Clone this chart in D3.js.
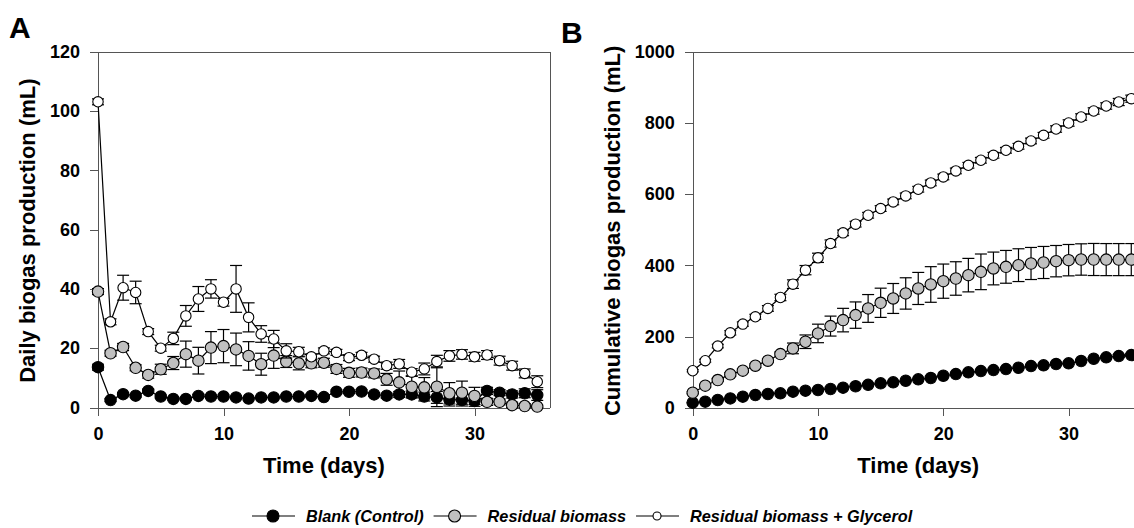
<!DOCTYPE html>
<html>
<head>
<meta charset="utf-8">
<script src="https://cdn.jsdelivr.net/npm/d3@7"></script>
<style>
  html, body { margin: 0; padding: 0; background: #fff; }
  svg { display: block; font-family: "Liberation Sans", Arial, sans-serif; }
  .tick text { font-size: 18px; font-weight: bold; fill: #000; }
  .axis path, .axis line { stroke: #555; stroke-width: 1; shape-rendering: crispEdges; }
</style>
</head>
<body>
<svg id="chart" width="1134" height="528"></svg>
<script>
// Sampling days (0–35)
const days = [0,1,2,3,4,5,6,7,8,9,10,11,12,13,14,15,16,17,18,19,20,21,22,23,24,25,26,27,28,29,30,31,32,33,34,35];

// Daily biogas production (mL), mean and error
const dailyBlank = [13.6,2.5,4.5,4.0,5.6,3.7,2.9,2.9,3.9,3.7,3.7,3.4,3.0,3.4,3.4,3.7,3.7,3.9,3.5,5.3,5.3,5.4,4.4,4.0,4.4,4.4,3.7,3.4,2.7,2.5,2.2,5.6,5.0,4.4,4.8,4.2];
const dailyBlankErr = [1.0,0.5,0.5,0.5,0.6,0.5,0.4,0.4,0.5,0.5,0.5,0.4,0.4,0.4,0.4,0.5,0.5,0.5,0.5,0.6,0.6,0.6,0.6,0.8,1.0,1.2,1.5,2.0,2.2,2.0,1.8,1.2,1.0,1.2,1.5,1.8];
const dailyResidual = [39.1,18.3,20.4,13.4,11.0,12.9,15.0,18.0,15.8,20.2,20.7,19.6,17.4,14.6,17.5,15.5,14.9,14.9,15.1,13.0,11.7,11.8,11.5,9.5,8.5,7.0,6.8,7.0,4.8,5.0,3.9,1.9,1.9,0.8,0.5,0.3];
const dailyResidualErr = [1.0,1.0,1.2,1.0,1.1,1.7,2.2,4.4,4.5,5.4,5.6,5.5,4.8,3.7,4.3,2.0,2.2,1.5,1.5,1.5,1.5,1.5,1.5,2.0,3.8,3.5,3.3,6.7,3.6,3.9,2.9,1.2,1.0,1.0,0.8,0.5];
const dailyGlycerol = [103.1,28.9,40.4,38.8,25.6,20.0,23.3,30.9,36.6,40.0,35.5,40.0,30.4,24.8,23.1,19.1,18.8,17.1,19.1,18.6,16.8,17.6,16.3,14.1,14.7,11.9,13.0,15.5,17.4,17.9,17.1,17.7,15.8,14.1,11.5,8.7];
const dailyGlycerolErr = [1.0,1.0,4.2,3.8,1.0,1.0,2.1,3.5,4.2,3.1,1.3,7.9,4.9,2.8,2.9,2.4,1.5,1.0,1.0,1.0,1.0,1.0,1.0,1.2,1.5,1.2,2.0,2.1,1.8,1.6,1.5,1.5,1.5,1.5,1.5,2.0];

// Cumulative biogas production (mL), mean and error
const cumBlank = [14.9,17.8,22.4,27.0,31.8,36.4,39.3,41.1,45.8,48.6,50.5,53.3,57.0,61.0,65.0,69.2,72.0,76.6,80.4,84.1,90.6,95.3,100.0,103.7,106.5,109.3,113.0,117.7,119.7,123.4,125.3,131.8,138.2,142.1,145.8,148.6];
const cumBlankErr = [1,1,1,1,1,1,1,1,1,1,1,1,1,1,1,1,1,1,1,1,1,1,1,1,1.5,1.5,2,2,2.5,3,3,3,3,3.5,4,4];
const cumResidual = [43.0,62.6,78.5,94.4,104.7,118.7,132.7,151.4,167.3,186.0,209.3,229.9,246.7,260.7,279.4,295.3,307.4,321.5,335.5,346.7,356.0,363.5,372.9,382.2,391.6,396.2,400.9,405.6,408.4,412.1,414.9,416.8,416.8,416.5,416.5,416.5];
const cumResidualErr = [3,4,4,5,5,5,5,6,15,19,26,28,33,37,39,41,42,44,45,50,48,47,47,50,46,46,46,45,45,44,44,44,45,45,45,45];
const cumGlycerol = [104.6,132.7,173.8,211.0,235.5,256.0,279.4,310.2,347.6,386.9,421.5,461.6,491.6,516.0,541.0,559.8,578.4,595.3,614.0,631.7,648.5,665.4,681.2,695.3,709.3,723.3,734.5,749.5,765.4,783.0,799.9,816.7,833.6,847.6,858.8,868.1];
const cumGlycerolErr = [3,4,5,6,6,7,8,9,12,13,13,10,8,8,8,8,8,8,8,8,8,8,8,8,8,8,8,8,8,9,9,9,9,9,10,10];

// Axis ticks and labels
const xTicks = [0,10,20,30];
const dailyTicks = [0,20,40,60,80,100,120];
const cumTicks = [0,200,400,600,800,1000];
const seriesNames = ["Blank (Control)", "Residual biomass", "Residual biomass + Glycerol"];
const seriesFills = ["#000000", "#c0c0c0", "#ffffff"];

const svg = d3.select("#chart");

function drawPanel(opts) {
  const { left, right, top, bottom, yMax, yTicks, series, yLabel, letter, letterPos, yLabelX } = opts;
  const x = d3.scaleLinear().domain([0, 36]).range([left, right]);
  const y = d3.scaleLinear().domain([0, yMax]).range([bottom, top]);
  const g = svg.append("g");

  // frame: top and right edges
  g.append("g").attr("class", "axis").attr("transform", `translate(0,${top})`)
    .call(d3.axisTop(x).tickValues([]).tickSizeOuter(0));
  g.append("g").attr("class", "axis").attr("transform", `translate(${right},0)`)
    .call(d3.axisRight(y).tickValues([]).tickSizeOuter(0));

  // axes
  g.append("g").attr("class", "axis").attr("transform", `translate(0,${bottom})`)
    .call(d3.axisBottom(x).tickValues(xTicks).tickFormat(d3.format("d"))
      .tickSize(8).tickSizeOuter(0).tickPadding(11.5));
  g.append("g").attr("class", "axis").attr("transform", `translate(${left},0)`)
    .call(d3.axisLeft(y).tickValues(yTicks).tickFormat(d3.format("d"))
      .tickSize(8).tickSizeOuter(0).tickPadding(10));

  // series: line, error bars, markers
  const line = d3.line().x((d, i) => x(days[i])).y(d => y(d));
  series.forEach((s, si) => {
    const sg = g.append("g");
    sg.append("path").datum(s.values).attr("d", line)
      .attr("fill", "none").attr("stroke", "#000").attr("stroke-width", 1.2);
    const eb = sg.selectAll("g.err").data(s.values).join("g").attr("class", "err");
    eb.append("line")
      .attr("x1", (d, i) => x(days[i])).attr("x2", (d, i) => x(days[i]))
      .attr("y1", (d, i) => y(d + s.err[i])).attr("y2", (d, i) => y(Math.max(0, d - s.err[i])))
      .attr("stroke", "#000").attr("stroke-width", 1.2);
    eb.append("line")
      .attr("x1", (d, i) => x(days[i]) - 6).attr("x2", (d, i) => x(days[i]) + 6)
      .attr("y1", (d, i) => y(d + s.err[i])).attr("y2", (d, i) => y(d + s.err[i]))
      .attr("stroke", "#000").attr("stroke-width", 1.2);
    eb.append("line")
      .attr("x1", (d, i) => x(days[i]) - 6).attr("x2", (d, i) => x(days[i]) + 6)
      .attr("y1", (d, i) => y(Math.max(0, d - s.err[i]))).attr("y2", (d, i) => y(Math.max(0, d - s.err[i])))
      .attr("stroke", "#000").attr("stroke-width", 1.2);
    sg.selectAll("circle").data(s.values).join("circle")
      .attr("cx", (d, i) => x(days[i])).attr("cy", d => y(d))
      .attr("r", si === 2 ? 5.2 : 5.7)
      .attr("fill", seriesFills[si]).attr("stroke", "#000").attr("stroke-width", 1.1);
  });

  // axis titles
  g.append("text").attr("x", (left + right) / 2).attr("y", 473)
    .attr("text-anchor", "middle").attr("font-size", 22).attr("font-weight", "bold")
    .text("Time (days)");
  g.append("text").attr("transform", `translate(${yLabelX},${(top + bottom) / 2 + 1}) rotate(-90)`)
    .attr("text-anchor", "middle").attr("font-size", 22).attr("font-weight", "bold")
    .text(yLabel);

  // panel letter
  g.append("text").attr("x", letterPos[0]).attr("y", letterPos[1])
    .attr("font-size", 30).attr("font-weight", "bold").text(letter);
}

drawPanel({
  left: 98, right: 549.8, top: 51.7, bottom: 407.5, yMax: 120, yTicks: dailyTicks,
  series: [
    { values: dailyBlank, err: dailyBlankErr },
    { values: dailyResidual, err: dailyResidualErr },
    { values: dailyGlycerol, err: dailyGlycerolErr }
  ],
  yLabel: "Daily biogas production (mL)", yLabelX: 35, letter: "A", letterPos: [9, 38]
});

drawPanel({
  left: 692.7, right: 1143.8, top: 51.7, bottom: 408, yMax: 1000, yTicks: cumTicks,
  series: [
    { values: cumBlank, err: cumBlankErr },
    { values: cumResidual, err: cumResidualErr },
    { values: cumGlycerol, err: cumGlycerolErr }
  ],
  yLabel: "Cumulative biogas production (mL)", yLabelX: 620, letter: "B", letterPos: [561, 43]
});

// legend
const legend = svg.append("g").attr("transform", "translate(252,516)");
let lx = 0;
seriesNames.forEach((name, i) => {
  const item = legend.append("g").attr("transform", `translate(${lx},0)`);
  item.append("line").attr("x1", 0).attr("x2", 43).attr("y1", 0).attr("y2", 0)
    .attr("stroke", "#000").attr("stroke-width", 1.2);
  item.append("circle").attr("cx", 21).attr("cy", 0).attr("r", i === 2 ? 4 : 6)
    .attr("fill", seriesFills[i]).attr("stroke", "#000").attr("stroke-width", 1.1);
  const t = item.append("text").attr("x", 54).attr("y", 6)
    .attr("font-size", 16.3).attr("font-weight", "bold").attr("font-style", "italic")
    .text(name);
  lx += 54 + t.node().getComputedTextLength() + 10;
});
</script>
</body>
</html>
